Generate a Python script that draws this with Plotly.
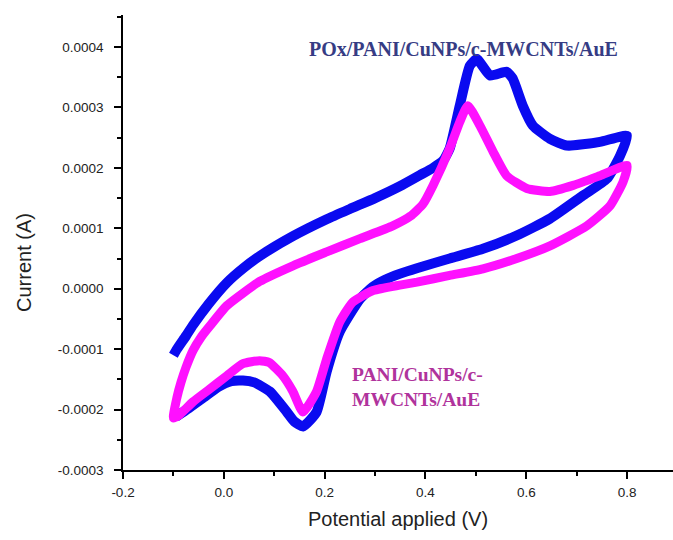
import plotly.graph_objects as go

# Cyclic voltammograms: potential (V) vs current (A), forward scan then reverse scan
pox_E = [-0.100, -0.093, -0.075, -0.061, -0.030, 0.006, 0.040, 0.071, 0.137, 0.204,
         0.250, 0.300, 0.350, 0.389, 0.415, 0.435, 0.448, 0.468, 0.488, 0.502, 0.528,
         0.561, 0.573, 0.593, 0.613, 0.647, 0.680, 0.746, 0.800,
         0.786, 0.760, 0.712, 0.647, 0.581, 0.514, 0.448, 0.383, 0.350, 0.320, 0.295, 0.270,
         0.230, 0.204, 0.184, 0.157, 0.140, 0.125, 0.091, 0.060, 0.038, 0.015,
         -0.010, -0.040, -0.070, -0.095]
pox_I = [-1.10e-4, -1.00e-4, -0.78e-4, -0.60e-4, -0.25e-4, 0.10e-4, 0.35e-4, 0.54e-4, 0.87e-4, 1.15e-4,
         1.32e-4, 1.50e-4, 1.70e-4, 1.88e-4, 2.00e-4, 2.12e-4, 2.32e-4, 3.03e-4, 3.69e-4, 3.80e-4, 3.53e-4,
         3.59e-4, 3.48e-4, 3.03e-4, 2.70e-4, 2.48e-4, 2.37e-4, 2.43e-4, 2.53e-4,
         2.20e-4, 1.82e-4, 1.54e-4, 1.16e-4, 0.88e-4, 0.66e-4, 0.50e-4, 0.34e-4, 0.25e-4, 0.15e-4, 0.03e-4, -0.17e-4,
         -0.71e-4, -1.37e-4, -2.04e-4, -2.28e-4, -2.20e-4, -2.04e-4, -1.70e-4, -1.55e-4, -1.52e-4, -1.53e-4,
         -1.62e-4, -1.80e-4, -1.98e-4, -2.12e-4]

pani_E = [-0.100, -0.093, -0.085, -0.075, -0.061, -0.045, -0.028, 0.006, 0.071, 0.137, 0.204, 0.270,
          0.335, 0.370, 0.395, 0.415, 0.448, 0.468, 0.484, 0.508, 0.534, 0.561,
          0.601, 0.647, 0.693, 0.746, 0.800,
          0.792, 0.766, 0.720, 0.647, 0.581, 0.514, 0.448, 0.383, 0.349, 0.296,
          0.256, 0.230, 0.204, 0.184, 0.157, 0.137, 0.117, 0.090, 0.071, 0.038,
          0.006, -0.028, -0.061, -0.090, -0.100]
pani_I = [-2.14e-4, -1.80e-4, -1.55e-4, -1.30e-4, -1.02e-4, -0.80e-4, -0.62e-4, -0.28e-4, 0.12e-4, 0.38e-4, 0.61e-4, 0.83e-4,
          1.04e-4, 1.20e-4, 1.40e-4, 1.71e-4, 2.32e-4, 2.76e-4, 3.03e-4, 2.70e-4, 2.27e-4, 1.87e-4,
          1.66e-4, 1.61e-4, 1.71e-4, 1.87e-4, 2.04e-4,
          1.77e-4, 1.37e-4, 1.04e-4, 0.71e-4, 0.50e-4, 0.33e-4, 0.22e-4, 0.11e-4, 0.06e-4, -0.03e-4,
          -0.22e-4, -0.55e-4, -1.16e-4, -1.70e-4, -2.04e-4, -1.70e-4, -1.44e-4, -1.22e-4, -1.19e-4, -1.24e-4,
          -1.44e-4, -1.66e-4, -1.87e-4, -2.10e-4, -2.14e-4]

x_tickvals = [-0.2, 0.0, 0.2, 0.4, 0.6, 0.8]
x_ticktext = ["-0.2", "0.0", "0.2", "0.4", "0.6", "0.8"]
y_tickvals = [-0.0003, -0.0002, -0.0001, 0.0, 0.0001, 0.0002, 0.0003, 0.0004]
y_ticktext = ["-0.0003", "-0.0002", "-0.0001", "0.0000", "0.0001", "0.0002", "0.0003", "0.0004"]

label_pox = "POx/PANI/CuNPs/c-MWCNTs/AuE"
label_pani = "PANI/CuNPs/c-<br>MWCNTs/AuE"

fig = go.Figure()
fig.add_trace(go.Scatter(x=pox_E, y=pox_I, mode="lines",
                         line=dict(color="#0a0af0", width=10, shape="spline", smoothing=0.5),
                         name=label_pox, showlegend=False))
fig.add_trace(go.Scatter(x=pani_E, y=pani_I, mode="lines",
                         line=dict(color="#ff10ff", width=9, shape="spline", smoothing=0.5),
                         name="PANI/CuNPs/c-MWCNTs/AuE", showlegend=False))

fig.add_annotation(x=0.165, y=0.000396, xref="x", yref="y", text=label_pox, showarrow=False,
                   xanchor="left", yanchor="middle",
                   font=dict(family="Liberation Serif", size=20, color="#363c84", weight="bold"))
fig.add_annotation(x=0.25, y=-0.000162, xref="x", yref="y", text=label_pani, showarrow=False,
                   xanchor="left", yanchor="middle", align="left",
                   font=dict(family="Liberation Serif", size=19.5, color="#b0339c", weight="bold"))

axis_font = dict(family="Liberation Sans", size=13.5, color="#222222")
title_font = dict(family="Liberation Sans", size=20, color="#222222")

# y-axis title placed as a rotated annotation, sitting a little below the axis centre
fig.add_annotation(x=-0.18, y=0.455, xref="paper", yref="paper", text="Current (A)",
                   showarrow=False, textangle=-90, xanchor="center", yanchor="middle",
                   font=title_font)

fig.update_layout(
    width=673, height=540,
    margin=dict(l=123, r=0, t=15, b=70),
    paper_bgcolor="white", plot_bgcolor="white",
    xaxis=dict(range=[-0.2, 0.891], tickvals=x_tickvals, ticktext=x_ticktext,
               showgrid=False, zeroline=False, showline=True, linecolor="black", linewidth=1.5,
               ticks="outside", ticklen=7, tickwidth=1.5, tickcolor="black",
               minor=dict(ticks="outside", ticklen=4, tickwidth=1.5, tickcolor="black", dtick=0.1, tick0=-0.2),
               tickfont=axis_font, ticklabelstandoff=2,
               title=dict(text="Potential applied (V)", font=title_font, standoff=13)),
    yaxis=dict(range=[-0.0003, 0.000453], tickvals=y_tickvals, ticktext=y_ticktext,
               showgrid=False, zeroline=False, showline=True, linecolor="black", linewidth=1.5,
               ticks="outside", ticklen=7, tickwidth=1.5, tickcolor="black",
               minor=dict(ticks="outside", ticklen=4, tickwidth=1.5, tickcolor="black", dtick=0.00005, tick0=-0.0003),
               tickfont=axis_font, ticklabelstandoff=8),
)

fig.write_html("out.html")
